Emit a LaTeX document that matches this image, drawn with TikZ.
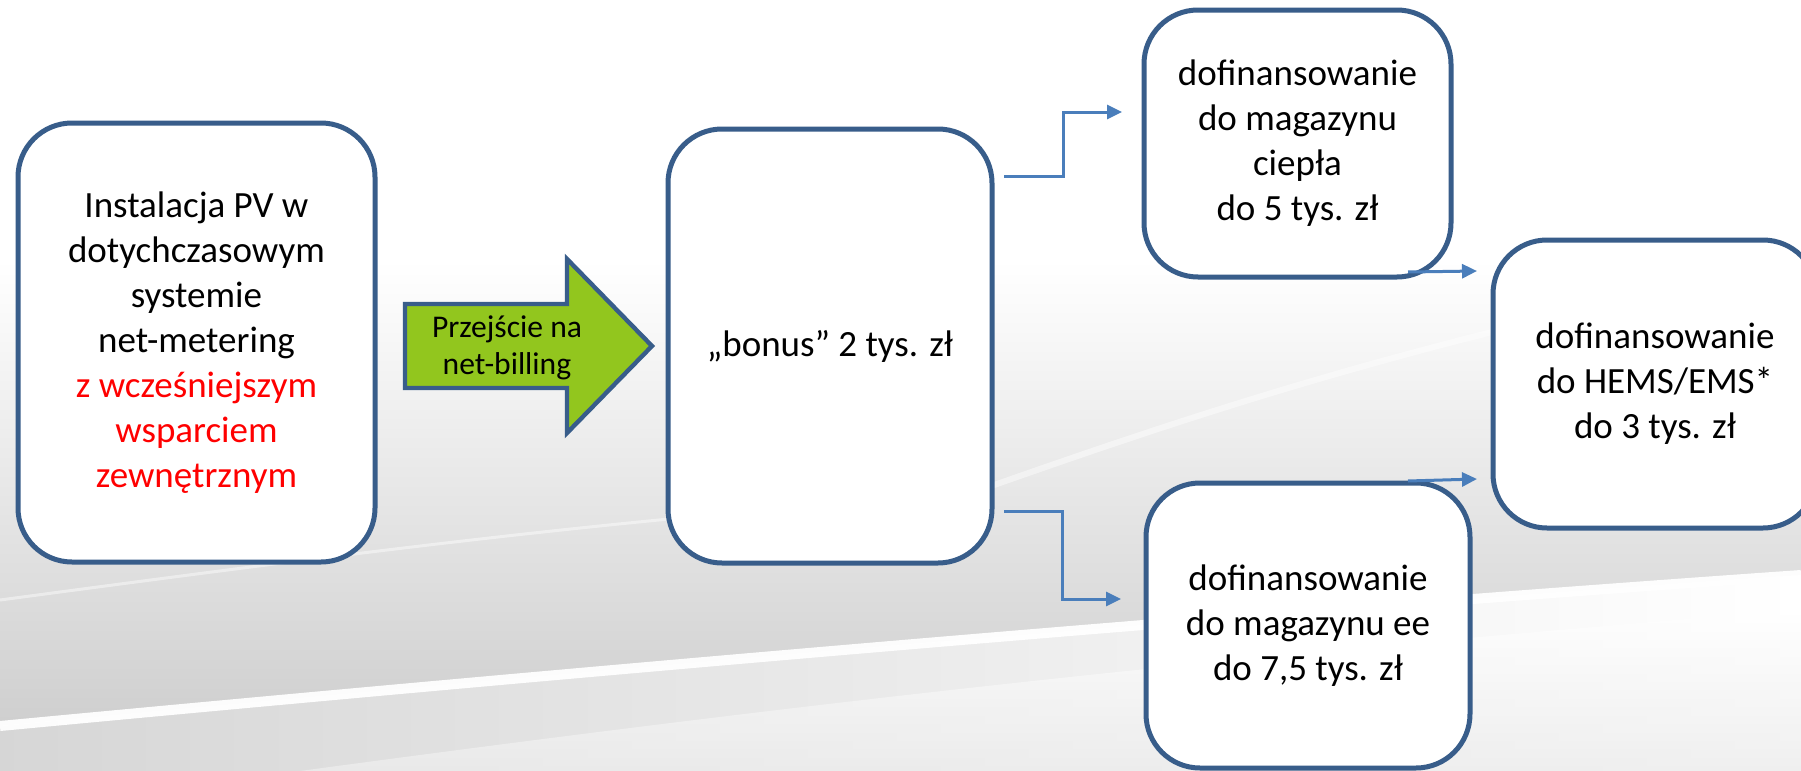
\documentclass[tikz,border=0pt]{standalone}
\usepackage{fontspec}
\setmainfont{Carlito}
\usetikzlibrary{arrows.meta}
\definecolor{boxblue}{RGB}{56,93,138}
\definecolor{lineblue}{RGB}{74,126,187}
\definecolor{arrgreen}{RGB}{146,198,30}
\definecolor{redtext}{RGB}{255,0,0}
\begin{document}
\begin{tikzpicture}[x=0.5pt,y=-0.5pt,
  box/.style={draw=boxblue, line width=2.5pt, fill=white, rounded corners=27pt,
    align=center, inner sep=0pt, font=\fontsize{18.5pt}{22.5pt}\selectfont},
  conn/.style={draw=lineblue, line width=1.5pt, -{Triangle[length=7.5pt,width=7pt]}},
  streak/.style={white, opacity=0.45, line width=3pt}]
% background
\useasboundingbox (0,0) rectangle (1801,771);
\fill[white] (0,0) rectangle (1801,771);
\shade[top color=white, bottom color=gray!38]
  (0,260) -- (1801,260)
  -- (1801,575) .. controls (1300,610) and (700,660) .. (0,726) -- cycle;
\shade[left color=gray!32, right color=white]
  (0,726) .. controls (700,660) and (1300,610) .. (1801,575)
  -- (1801,771) -- (0,771) -- cycle;
\shade[top color=white, bottom color=white!85!gray, opacity=0.8]
  (300,771) .. controls (900,690) and (1300,650) .. (1801,610)
  -- (1801,771) -- cycle;
\draw[white, line width=5pt, opacity=0.95]
  (0,726) .. controls (700,660) and (1300,610) .. (1801,575);
\draw[streak] (980,490) .. controls (1150,430) and (1300,380) .. (1500,330);
\draw[streak, line width=1.5pt] (0,600) .. controls (300,560) and (600,520) .. (900,500);

% boxes
\node[box, minimum width=178.5pt, minimum height=219.5pt] (pv) at (196.5,342.5)
  {Instalacja PV w\\ dotychczasowym\\ systemie\\ net-metering\\
   \textcolor{redtext}{z wcześniejszym}\\ \textcolor{redtext}{wsparciem}\\
   \textcolor{redtext}{zewnętrznym}};
\node[box, minimum width=162pt, minimum height=217pt] (bonus) at (830,346)
  {„bonus” 2 tys. zł};
\node[box, minimum width=153.5pt, minimum height=133.5pt] (heat) at (1297.5,143.5)
  {dofinansowanie\\ do magazynu\\ ciepła\\ do 5 tys. zł};
\node[box, minimum width=162pt, minimum height=142.5pt] (ee) at (1308,625.5)
  {dofinansowanie\\ do magazynu ee\\ do 7,5 tys. zł};
\node[box, minimum width=162pt, minimum height=144pt] (hems) at (1655,384)
  {dofinansowanie\\ do HEMS/EMS*\\ do 3 tys. zł};

% green arrow
\filldraw[fill=arrgreen, draw=boxblue, line width=2.2pt, line join=miter]
  (405,304) -- (567,304) -- (567,259) -- (652,346) -- (567,433) -- (567,388)
  -- (405,388) -- cycle;
\node[align=center, inner sep=0pt, font=\fontsize{15.8pt}{18.5pt}\selectfont]
  (move) at (507,348) {Przejście na\\ net-billing};

% connectors
\coordinate (c1s) at (1004,176);
\coordinate (c1e) at (1122,112);
\coordinate (c2s) at (1004,511);
\coordinate (c2e) at (1121,599);
\coordinate (c3s) at (1408,272);
\coordinate (c3e) at (1477,271);
\coordinate (c4s) at (1408,481);
\coordinate (c4e) at (1477,479);
\draw[conn] (c1s) -- (1063,176) |- (c1e);
\draw[conn] (c2s) -- (1062,511) |- (c2e);
\draw[conn] (c3s) -- (c3e);
\draw[conn] (c4s) -- (c4e);
\end{tikzpicture}
\end{document}
